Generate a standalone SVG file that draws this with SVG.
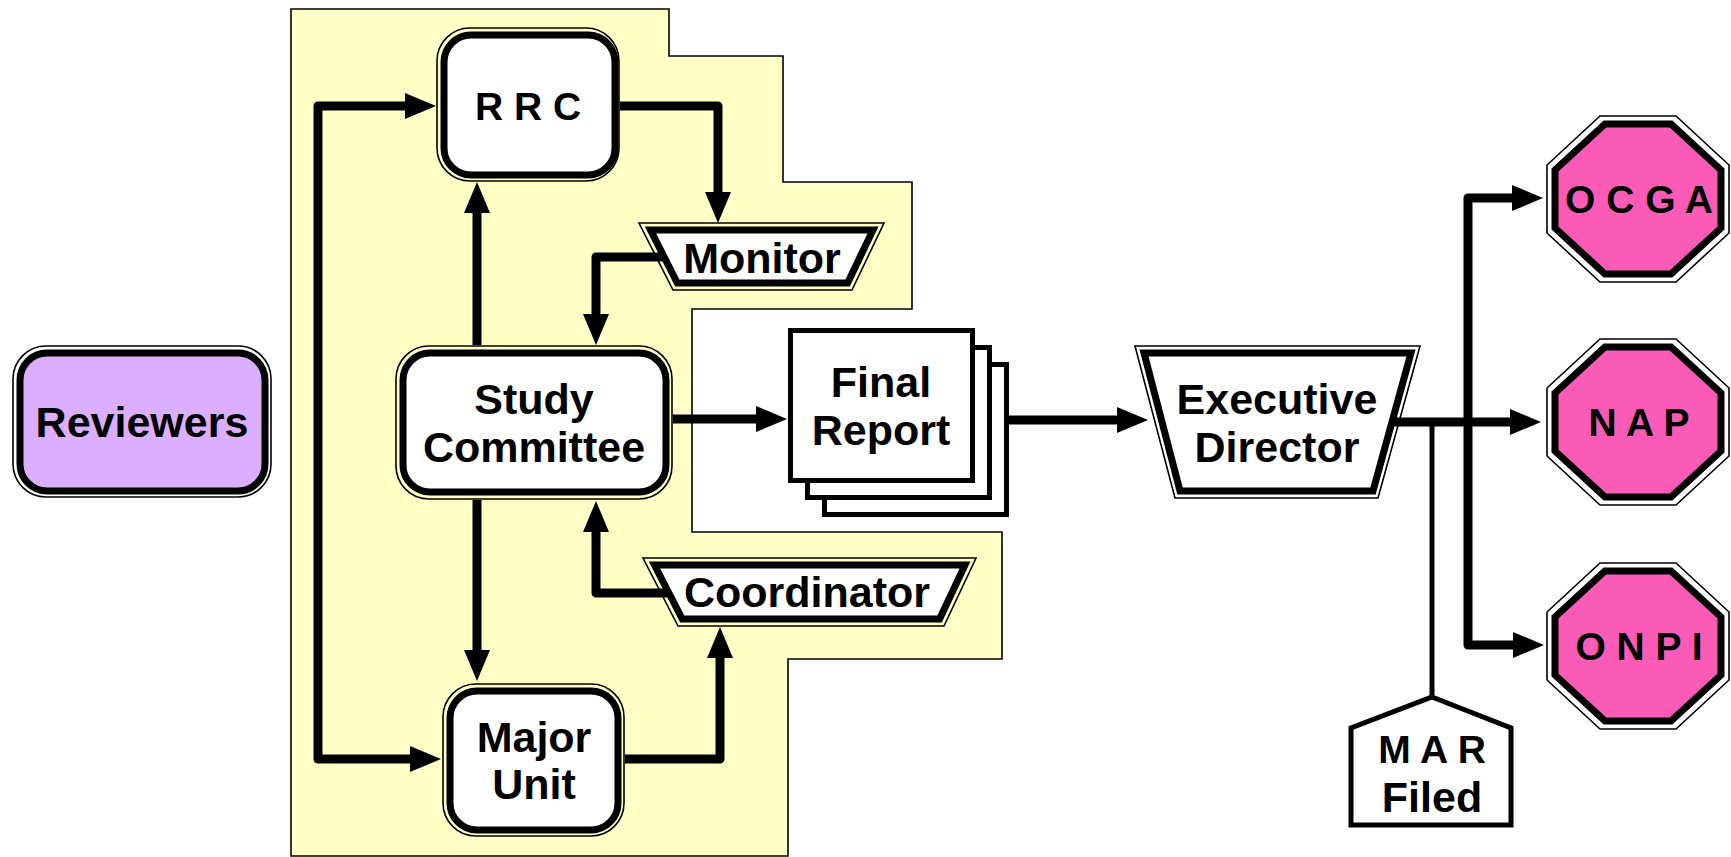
<svg xmlns="http://www.w3.org/2000/svg" xmlns:xlink="http://www.w3.org/1999/xlink" width="1731" height="857" viewBox="0 0 1731 857">
<style>
.t{font-family:"Liberation Sans",Arial,sans-serif;font-weight:bold;font-size:43px;fill:#000;text-anchor:middle}
.s{font-size:39px}
.thin{fill:none;stroke:#000;stroke-width:1.6}
.thick{fill:#fff;stroke:#000;stroke-width:7}
.c{fill:none;stroke:#000;stroke-width:9;stroke-linejoin:round}
</style>
<defs>
<marker id="ah" markerUnits="userSpaceOnUse" markerWidth="31" markerHeight="26" refX="1" refY="13" orient="auto-start-reverse">
<path d="M0,0 L31,13 L0,26 Z" fill="#000"/>
</marker>
<g id="oct">
<polygon class="thin" points="1600,-83 1676,-83 1729,-34 1729,34 1676,83 1600,83 1547,34 1547,-34"/>
<polygon points="1605,-75 1671,-75 1721,-29 1721,29 1671,75 1605,75 1555,29 1555,-29" fill="#F95BB7" stroke="#000" stroke-width="7"/>
</g>
</defs>
<rect width="1731" height="857" fill="#fff"/>
<g id="region">
<polygon points="291,9 669,9 669,56 783,56 783,182 912,182 912,309 692,309 692,532 1002,532 1002,659 788,659 788,856 291,856" fill="#FFFFC6" stroke="#000" stroke-width="1.6"/>
</g>
<g id="connectors">
<path class="c" d="M406,106 L318,106 L318,759 L411,759" marker-start="url(#ah)" marker-end="url(#ah)"/>
<path class="c" d="M620,106 L718,106 L718,193" marker-end="url(#ah)"/>
<path class="c" d="M665,257 L596,257 L596,315" marker-end="url(#ah)"/>
<path class="c" d="M477,345 L477,212" marker-end="url(#ah)"/>
<path class="c" d="M477,500 L477,651" marker-end="url(#ah)"/>
<path class="c" d="M668,593 L596,593 L596,531" marker-end="url(#ah)"/>
<path class="c" d="M625,759 L720,759 L720,657" marker-end="url(#ah)"/>
<path class="c" d="M673,419 L757,419" marker-end="url(#ah)"/>
<path class="c" d="M1006,420 L1118,420" marker-end="url(#ah)"/>
<path class="c" d="M1390,422 L1511,422" marker-end="url(#ah)"/>
<path class="c" d="M1513,198 L1468,198 L1468,645 L1514,645" marker-start="url(#ah)" marker-end="url(#ah)"/>
<path d="M1432,422 L1432,697" fill="none" stroke="#000" stroke-width="5"/>
</g>
<g id="reviewers">
<rect class="thin" x="13" y="346" width="258" height="151" rx="33"/>
<rect x="20" y="353" width="245" height="138" rx="27" fill="#DCAEFF" stroke="#000" stroke-width="7"/>
<text class="t" x="142" y="437">Reviewers</text>
</g>
<g id="rrc">
<rect class="thin" x="437" y="28" width="182" height="153" rx="33"/>
<rect class="thick" x="444" y="35" width="171" height="140" rx="27"/>
<text class="t s" x="528" y="120">R R C</text>
</g>
<g id="monitor">
<polygon class="thin" points="639,223 884,223 852,290 673,290"/>
<polygon class="thick" points="650.5,230 873,230 847.6,283 677.3,283"/>
<text class="t" x="762" y="273">Monitor</text>
</g>
<g id="study-committee">
<rect class="thin" x="396" y="346" width="276" height="153" rx="33"/>
<rect class="thick" x="403" y="353" width="263" height="139" rx="27"/>
<text class="t" x="534" y="414">Study</text>
<text class="t" x="534" y="462">Committee</text>
</g>
<g id="coordinator">
<polygon class="thin" points="643,558 976,558 944,626 678,626"/>
<polygon class="thick" points="654.5,565 965,565 939.6,619 682.3,619"/>
<text class="t" x="807" y="607">Coordinator</text>
</g>
<g id="major-unit">
<rect class="thin" x="443" y="684" width="181" height="152" rx="33"/>
<rect class="thick" x="450" y="691" width="168" height="139" rx="27"/>
<text class="t" x="534" y="752">Major</text>
<text class="t" x="534" y="799">Unit</text>
</g>
<g id="final-report">
<rect x="824.5" y="364.5" width="182" height="150" fill="#fff" stroke="#000" stroke-width="5"/>
<rect x="807.5" y="347.5" width="182" height="150" fill="#fff" stroke="#000" stroke-width="5"/>
<rect x="790.5" y="330.5" width="182" height="150" fill="#fff" stroke="#000" stroke-width="5"/>
<text class="t" x="881" y="397">Final</text>
<text class="t" x="881" y="445">Report</text>
</g>
<g id="executive-director">
<polygon class="thin" points="1135,346 1420,346 1378,498 1175,498"/>
<polygon class="thick" points="1144,353 1411,353 1373,491 1180,491"/>
<text class="t" x="1277" y="414">Executive</text>
<text class="t" x="1277" y="462">Director</text>
</g>
<g id="ocga">
<use xlink:href="#oct" transform="translate(0,199)"/>
<text class="t s" x="1639" y="213">O C G A</text>
</g>
<g id="nap">
<use xlink:href="#oct" transform="translate(0,422)"/>
<text class="t s" x="1639" y="436">N A P</text>
</g>
<g id="onpi">
<use xlink:href="#oct" transform="translate(0,646)"/>
<text class="t s" x="1639" y="660">O N P I</text>
</g>
<g id="mar-filed">
<polygon points="1432,697 1511,728 1511,825 1351,825 1351,728" fill="#fff" stroke="#000" stroke-width="5"/>
<text class="t s" x="1432" y="763">M A R</text>
<text class="t" x="1432" y="812">Filed</text>
</g>
</svg>
